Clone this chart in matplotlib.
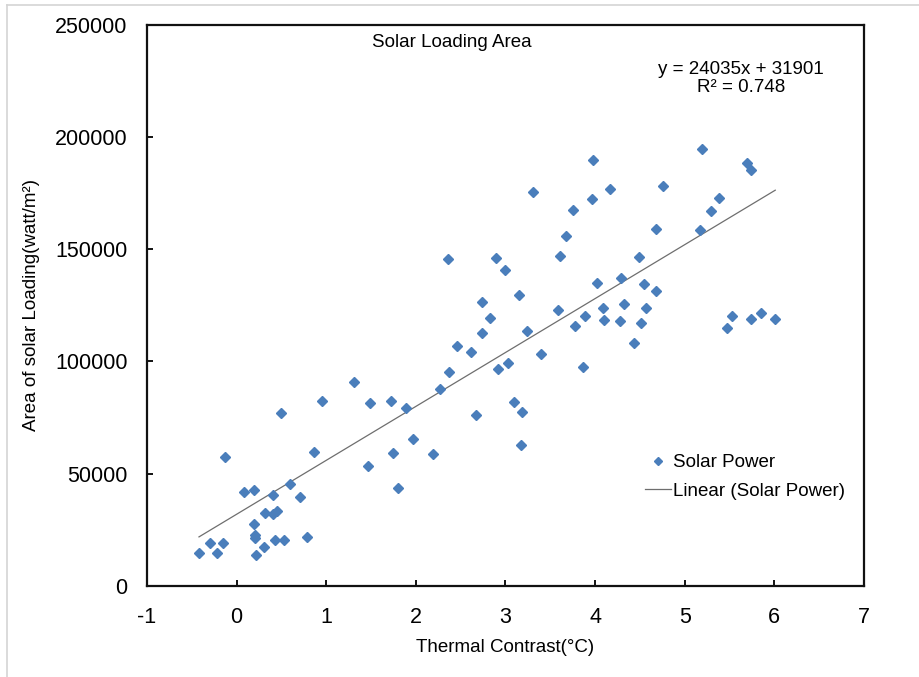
"""Solar loading area vs thermal contrast: scatter with linear trend line."""
import matplotlib
matplotlib.use("Agg")
import matplotlib.pyplot as plt  # noqa: E402
from matplotlib.lines import Line2D  # noqa: E402
import numpy as np  # noqa: E402

plt.rcParams["font.family"] = ["Liberation Sans", "DejaVu Sans"]
plt.rcParams["axes.unicode_minus"] = False

# thermal contrast (°C) and area of solar loading (watt/m²)
contrast = [
    -0.42, -0.30, -0.22, -0.15, -0.13, 0.08, 0.19, 0.19, 0.21, 0.21,
    0.22, 0.30, 0.32, 0.41, 0.41, 0.45, 0.43, 0.53, 0.50, 0.60,
    0.71, 0.79, 0.86, 0.95, 1.31, 1.47, 1.49, 1.72, 1.75, 1.80,
    1.89, 1.97, 2.19, 2.27, 2.37, 2.36, 2.46, 2.61, 2.67, 2.74,
    2.74, 2.83, 2.89, 2.92, 2.99, 3.03, 3.09, 3.15, 3.17, 3.18,
    3.24, 3.31, 3.40, 3.67, 3.61, 3.59, 3.75, 3.77, 3.89, 3.87,
    3.96, 3.98, 4.02, 4.09, 4.10, 4.17, 4.28, 4.29, 4.32, 4.43,
    4.51, 4.49, 4.54, 4.57, 4.68, 4.68, 4.76, 5.17, 5.19, 5.29,
    5.38, 5.47, 5.53, 5.69, 5.74, 5.74, 5.85, 6.01,
]
loading = [
    14750, 18960, 14480, 18960, 57390, 41800, 42690, 27400, 22640, 21520,
    13720, 17290, 32570, 40330, 32130, 33200, 20410, 20270, 77130, 45500,
    39570, 21750, 59620, 82480, 90950, 53380, 81320, 82480, 59310, 43450,
    79360, 65640, 58730, 87560, 95270, 145490, 106850, 104180, 76240, 126330,
    112560, 119330, 146290, 96610, 140720, 99280, 81900, 129800, 62870, 77440,
    113450, 175340, 103420, 155870, 147050, 122990, 167460, 115680, 120360, 97500,
    172360, 189730, 134800, 123700, 118580, 176680, 117990, 137290, 125660, 108330,
    117330, 146600, 134620, 123880, 131230, 159120, 178020, 158680, 194640, 166880,
    172800, 114880, 120360, 188400, 185280, 119020, 121560, 119020,
]

# trend line as printed on the chart
slope = 24035
intercept = 31901
r2 = 0.748

blue = "#4a7ebb"
grey = "#6e6e6e"
fs = 13.5

fig = plt.figure(figsize=(9.2, 6.77), dpi=100)
ax = fig.add_axes([0.1598, 0.1347, 0.7793, 0.8284])

ax.plot(contrast, loading, ls="none", marker="D", ms=5.6, color=blue,
        mec=blue, label="Solar Power", zorder=3)
xs = np.array([min(contrast), max(contrast)])
ax.plot(xs, slope * xs + intercept, color=grey, lw=0.9,
        label="Linear (Solar Power)", zorder=2)

ax.set_xlim(-1, 7)
ax.set_ylim(0, 250000)
ax.set_xticks(range(-1, 8))
ax.set_yticks(range(0, 250001, 50000))
ax.tick_params(direction="in", length=4.5, width=1.3, labelsize=15.5,
               colors="black")
ax.tick_params(axis="x", pad=15.5)
ax.tick_params(axis="y", pad=14)
for s in ax.spines.values():
    s.set_linewidth(1.6)
    s.set_color("#111111")

ax.set_xlabel("Thermal Contrast(°C)", fontsize=fs, labelpad=8)
ax.set_ylabel("Area of solar Loading(watt/m²)", fontsize=fs, labelpad=11)

ax.text(0.425, 0.968, "Solar Loading Area", transform=ax.transAxes,
        ha="center", va="center", fontsize=fs)
ax.text(0.828, 0.905, f"y = {slope}x + {intercept}\nR² = {r2}",
        transform=ax.transAxes, ha="center", va="center", fontsize=fs,
        linespacing=1.1)

handles = [
    Line2D([], [], ls="none", marker="D", ms=4.5, color=blue),
    Line2D([], [], color=grey, lw=0.9),
]
ax.legend(handles, ["Solar Power", "Linear (Solar Power)"],
          loc="center left", bbox_to_anchor=(0.682, 0.194), frameon=False,
          fontsize=fs, borderpad=0, handlelength=1.35, handletextpad=0.15,
          labelspacing=0.6)

# light frame edge of the original chart area (top and left only visible)
fig.add_artist(Line2D([7 / 920, 1], [1 - 5 / 677, 1 - 5 / 677],
                      color="#d4d4d4", lw=1.2))
fig.add_artist(Line2D([7 / 920, 7 / 920], [0, 1 - 5 / 677],
                      color="#d4d4d4", lw=1.2))

fig.savefig("out.png", dpi=100)
